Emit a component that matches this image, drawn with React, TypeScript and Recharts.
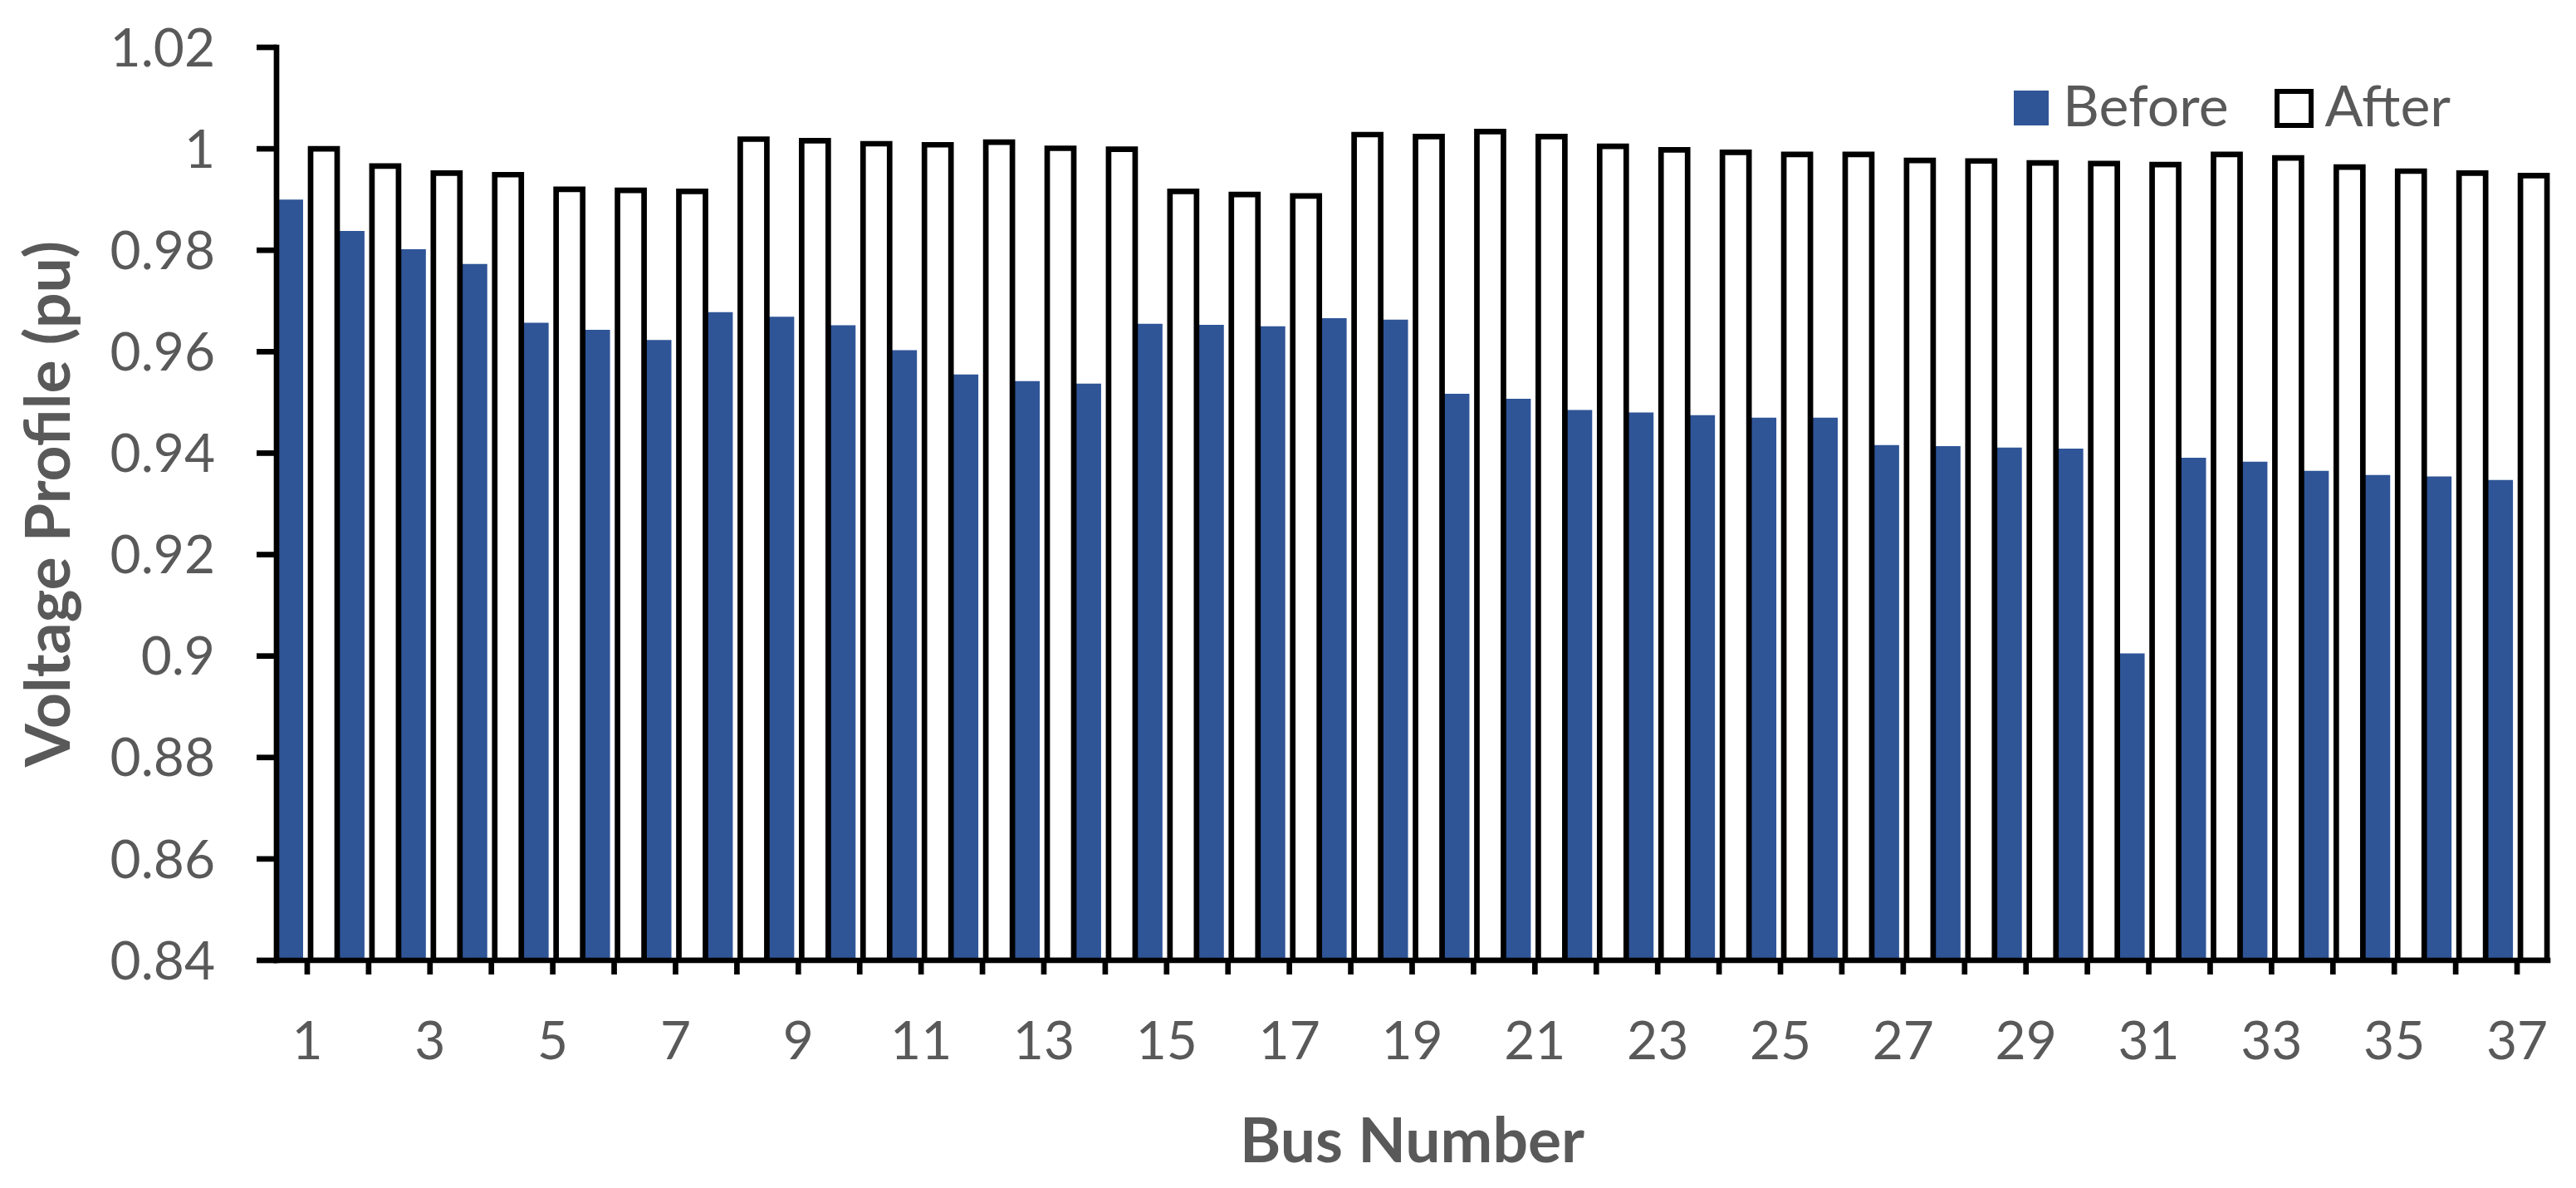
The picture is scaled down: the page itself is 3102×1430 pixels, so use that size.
import React from 'react';
import { BarChart, Bar, XAxis, YAxis, Legend, Label } from 'recharts';

// ---- data ----
const BUSES = ['1', '2', '3', '4', '5', '6', '7', '8', '9', '10', '11', '12', '13', '14', '15', '16', '17', '18', '19', '20', '21', '22', '23', '24', '25', '26', '27', '28', '29', '30', '31', '32', '33', '34', '35', '36', '37'];

const BEFORE = [0.9900, 0.9838, 0.9802, 0.9773, 0.9657, 0.9643, 0.9623, 0.9678, 0.9669, 0.9652,
  0.9603, 0.9555, 0.9542, 0.9537, 0.9655, 0.9653, 0.9650, 0.9666, 0.9663,
  0.9517, 0.9507, 0.9485, 0.9480, 0.9475, 0.9470, 0.9470, 0.9416, 0.9414, 0.9411,
  0.9409, 0.9005, 0.9391, 0.9383, 0.9365, 0.9357, 0.9354, 0.9347];

const AFTER = [1.0000, 0.9966, 0.9952, 0.9949, 0.9920, 0.9918, 0.9916, 1.0019, 1.0016, 1.0010,
  1.0008, 1.0013, 1.0001, 0.9999, 0.9916, 0.9910, 0.9907, 1.0028, 1.0024, 1.0034,
  1.0024, 1.0005, 0.9998, 0.9993, 0.9989, 0.9989, 0.9977, 0.9976, 0.9972, 0.9971,
  0.9969, 0.9989, 0.9982, 0.9964, 0.9956, 0.9952, 0.9947];

const Y_TICKS = [0.84, 0.86, 0.88, 0.9, 0.92, 0.94, 0.96, 0.98, 1.0, 1.02];
const X_LABELED = ['1', '3', '5', '7', '9', '11', '13', '15', '17', '19', '21', '23', '25', '27', '29', '31', '33', '35', '37'];

const SERIES_BEFORE = 'Before';
const SERIES_AFTER = 'After';
const LEGEND_ORDER = ['before', 'after'];
const X_TITLE = 'Bus Number';
const Y_TITLE = 'Voltage Profile (pu)';

const data = BUSES.map((bus, i) => ({ bus, before: BEFORE[i], after: AFTER[i] }));

// ---- styles ----
const FONT = 'Lato, "Open Sans", sans-serif';
const TEXT = '#595959';
const BLUE = '#2F5597';
const LINE = 6.7;

const axisLineStyle = { stroke: '#000', strokeWidth: LINE, strokeLinecap: 'square' as const };
const tickLineStyle = { stroke: '#000', strokeWidth: LINE };
const tickText = { fill: TEXT, fontSize: 64, fontFamily: FONT };

function LegendContent(props: any) {
  const payload = [...(props.payload || [])].sort(
    (a: any, b: any) => LEGEND_ORDER.indexOf(String(a.dataKey)) - LEGEND_ORDER.indexOf(String(b.dataKey))
  );
  return (
    <div style={{ display: 'flex', alignItems: 'center', width: 'max-content', whiteSpace: 'nowrap', fontFamily: FONT, fontSize: 68, color: TEXT, lineHeight: '68px' }}>
      {payload.map((entry: any, i: number) => {
        const hollow = entry.dataKey === 'after';
        return (
          <div key={String(entry.dataKey)} style={{ display: 'flex', alignItems: 'center', marginLeft: i ? 55 : 0 }}>
            <div style={{
              width: hollow ? 47 : 42,
              height: hollow ? 47 : 42,
              boxSizing: 'border-box',
              background: hollow ? '#fff' : BLUE,
              border: hollow ? `${LINE}px solid #000` : 'none',
            }} />
            <span style={{ marginLeft: hollow ? 14 : 17, position: 'relative', top: -4 }}>{entry.value}</span>
          </div>
        );
      })}
    </div>
  );
}

export default function App() {
  return (
    <div style={{ position: 'absolute', left: 0, top: 0, width: 3102, height: 1430, background: '#fff' }}>
      <BarChart
        width={3102}
        height={1430}
        data={data}
        margin={{ top: 57, right: 34, bottom: 124, left: 33 }}
        barCategoryGap={0}
        barGap={9}
      >
        <XAxis
          dataKey="bus"
          interval={0}
          height={150}
          tickSize={17}
          tickMargin={57}
          axisLine={axisLineStyle}
          tickLine={tickLineStyle}
          tick={tickText}
          tickFormatter={(v: string) => (X_LABELED.includes(String(v)) ? String(v) : '')}
        >
          <Label
            value={X_TITLE}
            position="bottom"
            offset={40}
            style={{ fill: TEXT, fontSize: 75, fontWeight: 700, fontFamily: FONT }}
          />
        </XAxis>
        <XAxis
          xAxisId="top"
          dataKey="bus"
          orientation="top"
          height={0}
          tick={false}
          tickLine={false}
          axisLine={axisLineStyle}
        />
        <YAxis
          width={300}
          domain={[0.84, 1.02]}
          ticks={Y_TICKS}
          allowDataOverflow
          interval={0}
          tickSize={24}
          tickMargin={50}
          axisLine={axisLineStyle}
          tickLine={tickLineStyle}
          tick={tickText}
          tickFormatter={(v: number) => String(Number(v.toFixed(2)))}
        >
          <Label
            value={Y_TITLE}
            angle={-90}
            position="insideLeft"
            offset={24}
            style={{ textAnchor: 'middle', fill: TEXT, fontSize: 75, fontWeight: 700, fontFamily: FONT }}
          />
        </YAxis>
        <YAxis
          yAxisId="right"
          orientation="right"
          width={0}
          domain={[0.84, 1.02]}
          ticks={Y_TICKS}
          tick={false}
          tickLine={false}
          axisLine={axisLineStyle}
        />
        <Legend
          content={<LegendContent />}
          wrapperStyle={{ left: 2425, top: 96, width: 0, height: 0 }}
        />
        <Bar dataKey="before" name={SERIES_BEFORE} fill={BLUE} isAnimationActive={false} />
        <Bar dataKey="after" name={SERIES_AFTER} fill="#FFFFFF" stroke="#000" strokeWidth={LINE} isAnimationActive={false} />
      </BarChart>
    </div>
  );
}
